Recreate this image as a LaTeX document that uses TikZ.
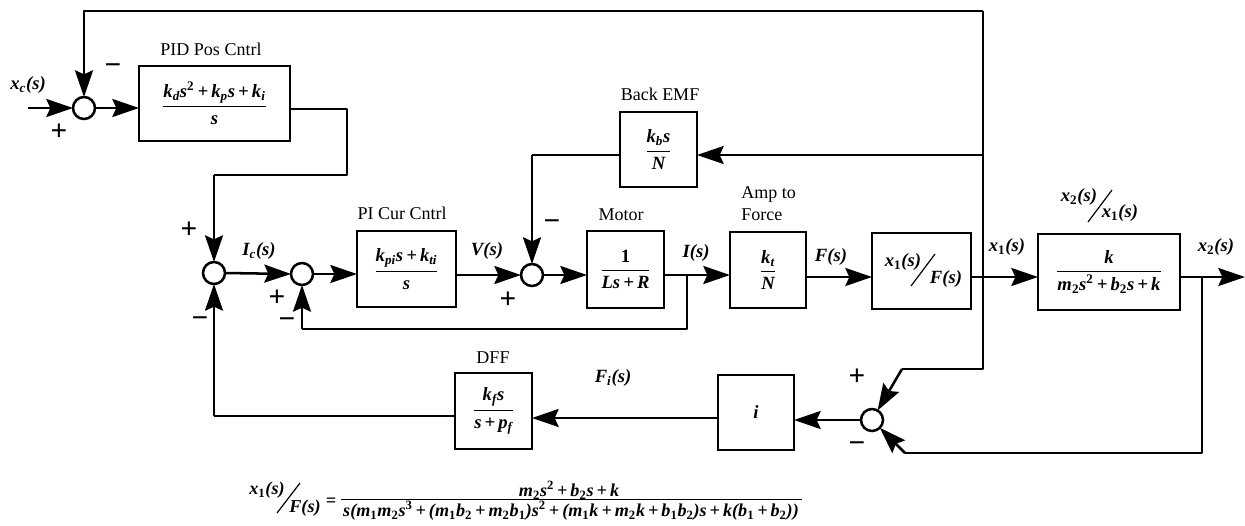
\documentclass[tikz,border=0pt]{standalone}
\usepackage[no-math]{fontspec}
\setmainfont{Liberation Serif}
\usetikzlibrary{arrows.meta}
\newcommand\Sbb[1]{\textsubscript{#1}}
\newcommand\Sbn[1]{\textsubscript{\upshape #1}}
\newcommand\Spp[1]{\textsuperscript{\upshape #1}}
\newcommand\Fr[2]{$\displaystyle{\hbox{#1}\above0.8pt\hbox{#2}}$}
\newcommand\Pl{\,+\,}
\tikzset{
  x=0.75pt,y=-0.75pt,
  wire/.style={line width=1.9pt,line join=round},
  arr/.style={wire,-{Stealth[length=20pt,width=13.5pt,inset=3pt]}},
  blk/.style 2 args={draw,line width=2pt,fill=white,inner sep=0pt,outer sep=0pt,align=center,
     minimum width=#1*0.75pt,minimum height=#2*0.75pt,font=\fontsize{14}{16}\selectfont\bfseries\itshape},
  sm/.style={circle,draw,fill=white,line width=1.9pt,minimum size=16.5pt,inner sep=0pt,outer sep=0pt},
  capt/.style={inner sep=0pt,font=\fontsize{13.5}{15}\selectfont},
  var/.style={inner sep=0pt,font=\fontsize{14}{16}\selectfont\bfseries\itshape},
  eqn/.style={inner sep=0pt,font=\fontsize{13.6}{15}\selectfont\bfseries\itshape},
  sgn/.style={inner sep=0pt,font=\fontsize{22}{22}\selectfont\bfseries},
  slash/.style={line width=0.9pt},
}
\begin{document}
\begin{tikzpicture}
\useasboundingbox (0,0) rectangle (1245,525);
% summing junctions
\node[sm] (s1) at (84,108) {};
\node[sm] (s2) at (214,273) {};
\node[sm] (s3) at (302,274) {};
\node[sm] (s4) at (532,275) {};
\node[sm] (s6) at (872,420) {};
% blocks
\node[blk={151}{75}] (pid) at (214.5,103.5) {\raisebox{-4.9pt}{\Fr{\textit{k}\Sbb{d}\textit{s}\Spp{2}\Pl\textit{k}\Sbb{p}\textit{s}\Pl\textit{k}\Sbb{i}}{\textit{s}}}};
\node[blk={99}{76}] (pi) at (406.5,269) {\raisebox{-2.2pt}{\Fr{\textit{k}\Sbb{pi}\textit{s}\Pl\textit{k}\Sbb{ti}}{\textit{s}}}};
\node[blk={77}{75}] (emf) at (658.5,149.5) {\raisebox{1.8pt}{\Fr{\textit{k}\Sbb{b}\textit{s}}{\textit{N}}}};
\node[blk={77}{77}] (mot) at (625.5,269.5) {\Fr{\upshape 1}{\textit{Ls}\Pl\textit{R}}};
\node[blk={76}{76}] (amp) at (768,270) {\Fr{\textit{k}\Sbb{t}}{\textit{N}}};
\node[blk={99}{76}] (fb) at (921.5,271) {};
\node[blk={142}{76}] (x2b) at (1109,272) {\raisebox{1.5pt}{\Fr{\textit{k}}{\textit{m}\Sbn{2}\textit{s}\Spp{2}\Pl\textit{b}\Sbn{2}\textit{s}\Pl\textit{k}}}};
\node[blk={77}{76}] (dff) at (493.5,411) {\Fr{\textit{k}\Sbb{f}\textit{s}}{\textit{s}\Pl\textit{p}\Sbb{f}}};
\node[blk={76}{75}] (ib) at (756,412.5) {\textit{i}};
% free points
\coordinate (xin) at (28,108);
\coordinate (tl) at (84,11);
\coordinate (tr) at (983,11);
\coordinate (emfj) at (983,155);
\coordinate (x1j) at (983,277);
\coordinate (rb) at (983,369);
\coordinate (rc) at (902,369);
\coordinate (pa) at (347,109);
\coordinate (pb) at (347,175);
\coordinate (pc) at (214,175);
\coordinate (ij) at (687,275);
\coordinate (ifb) at (687,329);
\coordinate (ifl) at (302,329);
\coordinate (emfl) at (532,155);
\coordinate (x2j) at (1202,277);
\coordinate (xout) at (1245,277);
\coordinate (bd) at (1202,453);
\coordinate (bc) at (905,453);
\coordinate (dl) at (214,416);
\coordinate (fi) at (600,418);
% connectors
\draw[arr] (xin) -- (s1.west);
\draw[arr] (s1.east) -- (pid.west |- s1);
\draw[arr] (tr) -- (tl) -- (s1.north);
\draw[wire] (emfj) -- (tr);
\draw[wire] (pid.east |- pa) -- (pa) -- (pb) -- (pc);
\draw[arr] (pc) -- (s2.north);
\draw[arr] (s2.east) -- (s3.west);
\draw[arr] (s3.east) -- (pi.west |- s3);
\draw[arr] (pi.east |- s4) -- (s4.west);
\draw[arr] (s4.east) -- (mot.west |- s4);
\draw[wire] (mot.east |- ij) -- (ij);
\draw[arr] (ij) -- (amp.west |- ij);
\draw[arr] (ifl) -- (s3.south);
\draw[wire] (ij) -- (ifb) -- (ifl);
\draw[arr] (emfj) -- (emf.east |- emfj);
\draw[wire] (emf.west |- emfl) -- (emfl);
\draw[arr] (emfl) -- (s4.north);
\draw[arr] (amp.east |- x1j) -- (fb.west |- x1j);
\draw[wire] (fb.east |- x1j) -- (x1j);
\draw[arr] (x1j) -- (x2b.west |- x1j);
\draw[wire] (emfj) -- (rb) -- (rc);
\draw[arr] (rc) -- (s6);
\draw[arr] (x2b.east |- x1j) -- (xout);
\draw[wire] (x2j) -- (bd) -- (bc);
\draw[arr] (bc) -- (s6);
\draw[arr] (s6.west) -- (ib.east |- s6);
\draw[arr] (ib.west |- fi) -- (dff.east |- fi);
\draw[wire] (dff.west |- dl) -- (dl);
\draw[arr] (dl) -- (s2.south);
% captions
\node[capt] (c1) at (211,49) {PID Pos Cntrl};
\node[capt] (c2) at (402,213) {PI Cur Cntrl};
\node[capt] (c3) at (660,94) {Back EMF};
\node[capt] (c4) at (621,215) {Motor};
\node[capt,anchor=west] (c5) at (741,194) {Amp to};
\node[capt,anchor=west] (c6) at (741,215) {Force};
\node[capt] (c7) at (493,358) {DFF};
% signal names
\node[var] (l1) at (28,85) {\textit{x}\Sbb{c}(\textit{s})};
\node[var] (l2) at (259,251) {\textit{I}\Sbb{c}(\textit{s})};
\node[var] (l3) at (487,251) {\textit{V}(\textit{s})};
\node[var] (l4) at (696,253) {\textit{I}(\textit{s})};
\node[var] (l5) at (831,257) {\textit{F}(\textit{s})};
\node[var] (l6) at (1007,247) {\textit{x}\Sbn{1}(\textit{s})};
\node[var] (l7) at (1216,247) {\textit{x}\Sbn{2}(\textit{s})};
\node[var] (l8) at (613,378) {\textit{F}\Sbb{i}(\textit{s})};
% slash fractions
\node[var] (f1) at (903,262) {\textit{x}\Sbn{1}(\textit{s})};
\node[var] (f2) at (946,279) {\textit{F}(\textit{s})};
\draw[slash] (911,286) -- (935,254);
\node[var] (t1) at (1079,197) {\textit{x}\Sbn{2}(\textit{s})};
\node[var] (t2) at (1120,213) {\textit{x}\Sbn{1}(\textit{s})};
\draw[slash] (1088,222) -- (1112,190);
% signs
\node[sgn] (g1) at (59,132) {+};
\node[sgn] (g2) at (113,69) {−};
\node[sgn] (g3) at (189,230) {+};
\node[sgn] (g4) at (200,322) {−};
\node[sgn] (g5) at (277,298) {+};
\node[sgn] (g6) at (287,323) {−};
\node[sgn] (g7) at (508,300) {+};
\node[sgn] (g8) at (552,225) {−};
\node[sgn] (g9) at (857,377) {+};
\node[sgn] (g10) at (857,447) {−};
% equation
\node[eqn] (e1) at (267,490) {\textit{x}\Sbn{1}(\textit{s})};
\node[eqn] (e2) at (305,508) {\textit{F}(\textit{s})};
\draw[slash] (277,513) -- (300,483);
\node[eqn] (e3) at (331,502) {=};
\node[eqn] (e4) at (569,490) {\textit{m}\Sbn{2}\textit{s}\Spp{2}\Pl\textit{b}\Sbn{2}\textit{s}\Pl\textit{k}};
\draw[line width=0.9pt] (341,499.5) -- (802,499.5);
\node[eqn] (e5) at (571,511) {\textit{s}(\textit{m}\Sbn{1}\textit{m}\Sbn{2}\textit{s}\Spp{3}\Pl(\textit{m}\Sbn{1}\textit{b}\Sbn{2}\Pl\textit{m}\Sbn{2}\textit{b}\Sbn{1})\textit{s}\Spp{2}\Pl(\textit{m}\Sbn{1}\textit{k}\Pl\textit{m}\Sbn{2}\textit{k}\Pl\textit{b}\Sbn{1}\textit{b}\Sbn{2})\textit{s}\Pl\textit{k}(\textit{b}\Sbn{1}\Pl\textit{b}\Sbn{2}))};
\end{tikzpicture}
\end{document}
